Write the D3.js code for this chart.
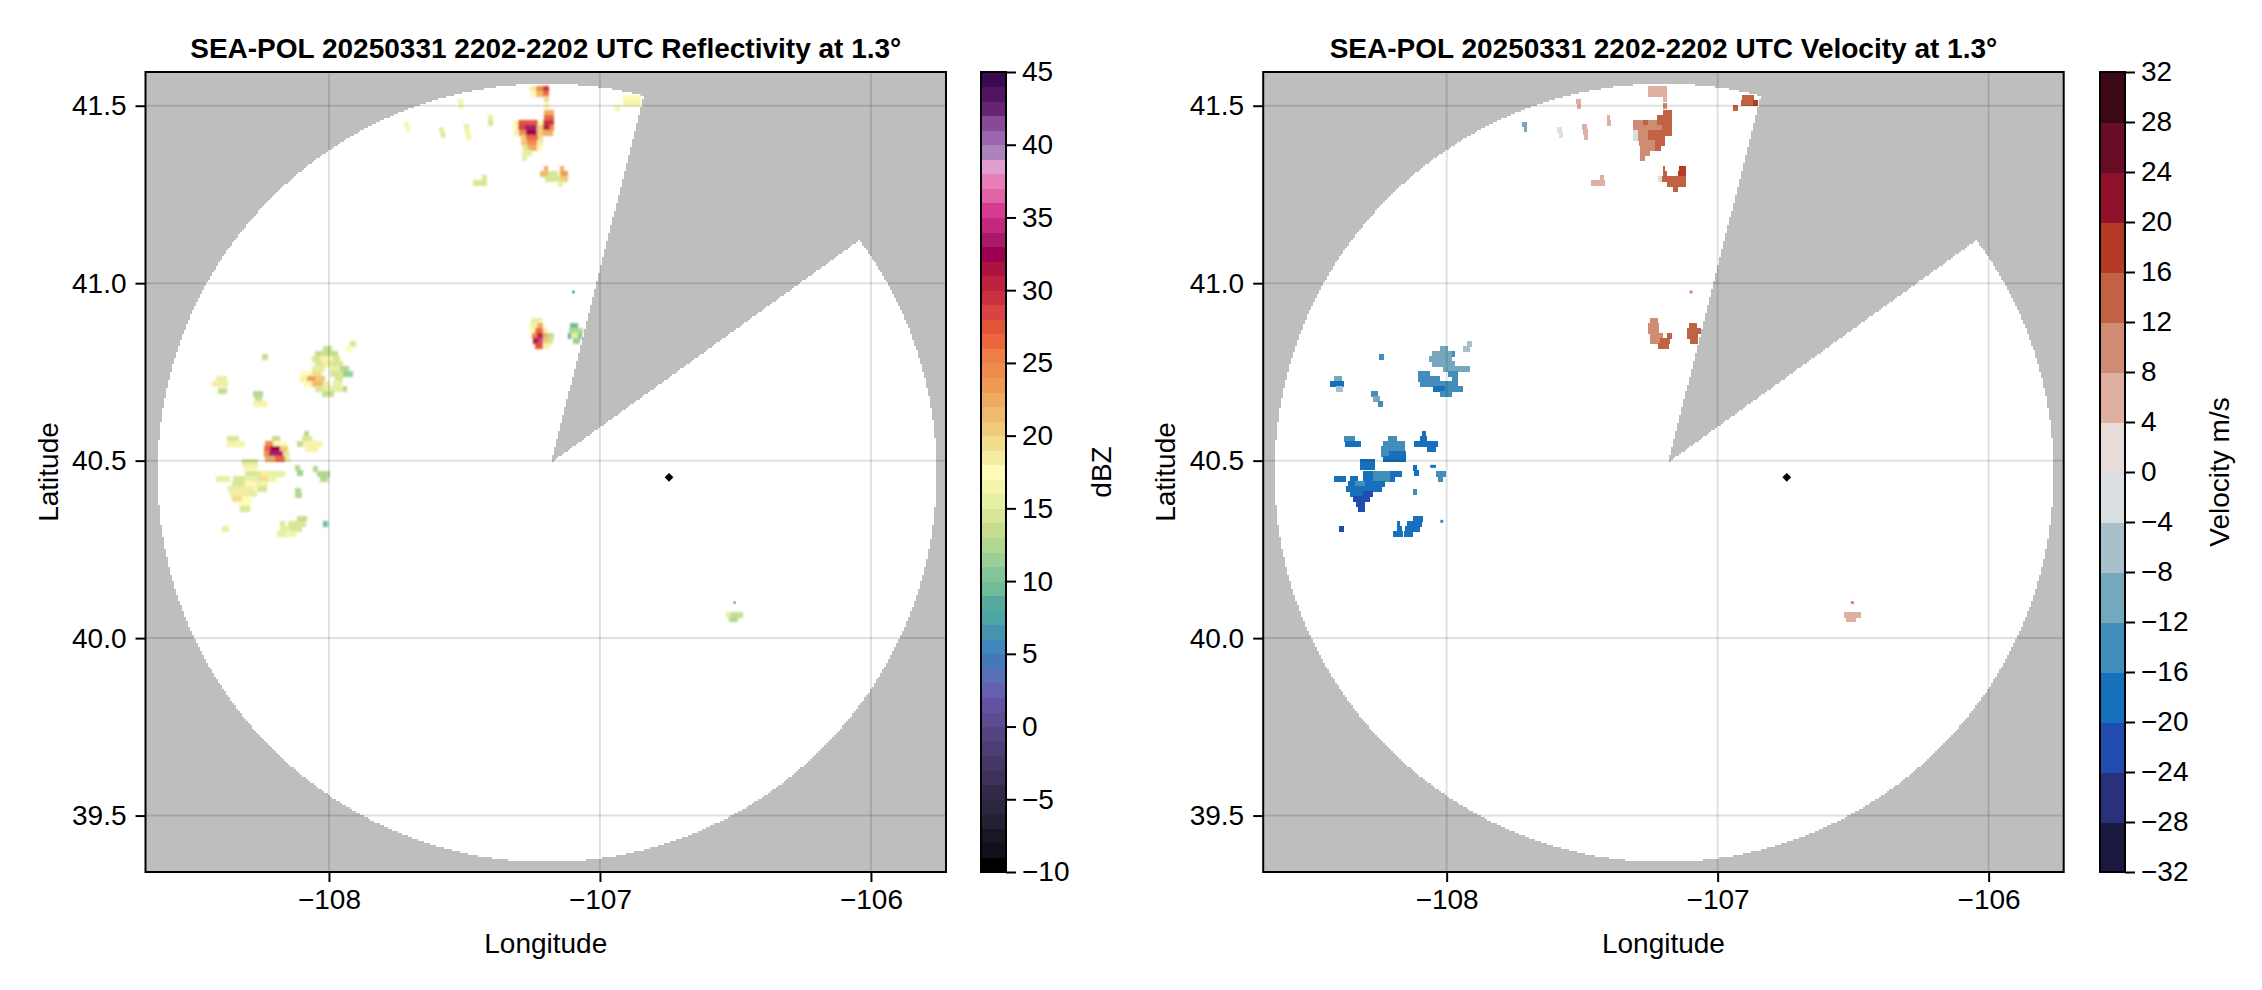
<!DOCTYPE html>
<html>
<head>
<meta charset="utf-8">
<script src="https://cdn.jsdelivr.net/npm/d3@7"></script>
<style>
  html, body { margin: 0; background: #fff; }
  svg { display: block; }
  text { font-family: "Liberation Sans", Arial, sans-serif; fill: #000; }
</style>
</head>
<body>
<svg id="chart" width="2262" height="990"></svg>
<script>
const lonTicks = [-108, -107, -106]
const latTicks = [39.5, 40.0, 40.5, 41.0, 41.5]
const dbzTicks = [-10, -5, 0, 5, 10, 15, 20, 25, 30, 35, 40, 45]
const velTicks = [-32, -28, -24, -20, -16, -12, -8, -4, 0, 4, 8, 12, 16, 20, 24, 28, 32]

// one colour per dBZ, bottom of the bar to the top
const dbzColors = [
  '#000000', '#12101a', '#1a1626', '#251f34', '#2c253e', '#322a48', '#3e315a', '#453668', '#4c3d74', '#544482',
  '#5e4c93', '#6352a0', '#6660b0', '#5a70b5', '#4478b8', '#3f88bc', '#4693b0', '#4da6a6', '#57a99d', '#70bb98',
  '#82c59a', '#9bcf96', '#b1d891', '#c6dd8f', '#d8e696', '#e6f0a2', '#f4f5ab', '#fefbb8', '#f5eca3', '#f2dd8e',
  '#efca78', '#efba6b', '#eeab62', '#ee9a55', '#f08b4e', '#ef7e45', '#eb663f', '#e35538', '#d94344', '#c93040',
  '#bc2140', '#ac1240', '#9c0050', '#a81a69', '#c2287c', '#d83b92', '#e065a7', '#e57fb5', '#e09fd0', '#ab84be',
  '#9a66ad', '#874a98', '#662472', '#4f1462', '#3a0a50',
]
const velColors = [
  '#1a1a40', '#28317a', '#204cb0', '#1670bc', '#428dba', '#74a8bd', '#a8c0c9', '#d9dfe1',
  '#e8dcd8', '#dfb0a2', '#cf8c72', '#c26245', '#b53a25', '#8f1029', '#690c26', '#3d0815',
]

// sweep outline, degrees: disk minus the blocked sector
const sweepLon = -107.197
const sweepLat = 40.467
const sweepLonRadius = 1.437
const sweepLatRadius = 1.095
const wedgeApex = [-107.183, 40.494]
const wedgeNorth = [-106.841, 41.527]
const wedgeEast = [-106.048, 41.119]
const radarSite = [-106.745, 40.453]

// echo rows: [lat of row top, west lon, east lon, value]
const reflectivityRuns = [
  [41.455,-107.723,-107.703,16],[41.441,-107.716,-107.700,16],
  [41.440,-107.593,-107.575,15],[41.426,-107.587,-107.570,14],
  [41.448,-107.500,-107.482,15],[41.434,-107.497,-107.480,16],[41.420,-107.495,-107.477,16],
  [41.474,-107.412,-107.396,15],[41.460,-107.412,-107.394,14],
  [41.520,-107.523,-107.504,16],[41.508,-107.520,-107.506,16],
  [41.555,-107.258,-107.236,18],[41.555,-107.236,-107.209,24],[41.555,-107.209,-107.187,29],
  [41.541,-107.258,-107.236,17],[41.541,-107.236,-107.209,21],[41.541,-107.209,-107.187,26],
  [41.527,-107.205,-107.187,19],[41.507,-107.205,-107.187,16],
  [41.488,-107.205,-107.170,22],[41.474,-107.205,-107.170,26],
  [41.460,-107.320,-107.301,17],[41.460,-107.301,-107.228,27],[41.460,-107.228,-107.209,17],[41.460,-107.209,-107.170,29],
  [41.446,-107.320,-107.301,17],[41.446,-107.301,-107.277,28],[41.446,-107.277,-107.231,33],[41.446,-107.231,-107.209,20],[41.446,-107.209,-107.185,30],[41.446,-107.185,-107.170,24],
  [41.431,-107.318,-107.299,16],[41.431,-107.299,-107.273,24],[41.431,-107.273,-107.231,32],[41.431,-107.231,-107.209,20],[41.431,-107.209,-107.175,22],
  [41.417,-107.293,-107.273,20],[41.417,-107.273,-107.228,26],[41.417,-107.228,-107.209,19],
  [41.403,-107.293,-107.271,20],[41.403,-107.271,-107.231,24],[41.403,-107.231,-107.209,18],
  [41.389,-107.285,-107.264,19],[41.389,-107.264,-107.234,22],[41.389,-107.234,-107.212,17],
  [41.375,-107.288,-107.252,15],[41.361,-107.288,-107.270,15],
  [41.305,-107.434,-107.418,14],[41.291,-107.468,-107.416,14],
  [41.330,-107.205,-107.191,22],[41.330,-107.148,-107.132,22],
  [41.316,-107.221,-107.191,21],[41.316,-107.191,-107.154,14],[41.316,-107.148,-107.117,23],
  [41.302,-107.203,-107.148,14],[41.302,-107.148,-107.117,20],[41.288,-107.154,-107.135,15],
  [41.530,-106.915,-106.850,17],[41.516,-106.915,-106.850,16],[41.502,-106.945,-106.926,16],
  [40.901,-107.255,-107.215,15],
  [40.887,-107.258,-107.234,16],[40.887,-107.234,-107.209,22],
  [40.873,-107.258,-107.240,17],[40.873,-107.240,-107.209,26],[40.873,-107.209,-107.197,18],
  [40.859,-107.252,-107.234,25],[40.859,-107.234,-107.209,30],[40.859,-107.209,-107.191,22],[40.859,-107.191,-107.170,13],
  [40.845,-107.248,-107.228,31],[40.845,-107.228,-107.209,35],[40.845,-107.209,-107.185,20],[40.845,-107.185,-107.172,14],
  [40.831,-107.240,-107.209,27],[40.831,-107.209,-107.185,16],
  [40.887,-107.111,-107.080,9],
  [40.873,-107.113,-107.064,12],
  [40.859,-107.117,-107.108,8],[40.859,-107.108,-107.080,15],[40.859,-107.080,-107.068,10],
  [40.845,-107.101,-107.074,11],
  [40.836,-107.923,-107.900,14],[40.822,-107.941,-107.915,17],
  [40.822,-108.021,-107.990,13],
  [40.808,-108.052,-107.966,13],
  [40.794,-108.064,-108.033,14],[40.794,-108.033,-107.984,16],[40.794,-107.984,-107.959,14],
  [40.780,-108.052,-108.027,14],[40.780,-108.027,-107.996,18],[40.780,-107.996,-107.947,14],
  [40.766,-108.064,-108.015,15],[40.766,-107.996,-107.959,15],[40.766,-107.959,-107.925,12],
  [40.752,-108.107,-108.064,17],[40.752,-108.064,-108.027,19],[40.752,-107.996,-107.947,14],[40.752,-107.947,-107.912,11],
  [40.738,-108.107,-108.082,16],[40.738,-108.082,-108.052,23],[40.738,-108.052,-108.015,20],[40.738,-107.978,-107.947,14],
  [40.723,-108.095,-108.064,17],[40.723,-108.064,-108.021,21],[40.723,-108.021,-107.996,18],[40.723,-107.984,-107.953,15],
  [40.709,-108.052,-108.021,14],[40.709,-108.021,-107.947,15],[40.709,-107.947,-107.932,12],
  [40.695,-108.027,-107.982,13],
  [40.800,-108.248,-108.224,13],
  [40.738,-108.415,-108.378,15],[40.723,-108.433,-108.372,18],[40.704,-108.408,-108.378,13],
  [40.695,-108.279,-108.242,12],[40.681,-108.273,-108.248,13],[40.667,-108.279,-108.230,16],
  [40.569,-108.378,-108.331,14],[40.554,-108.378,-108.310,16],
  [40.569,-108.212,-108.179,13],
  [40.554,-108.236,-108.205,24],[40.554,-108.205,-108.156,17],
  [40.540,-108.239,-108.218,26],[40.540,-108.218,-108.181,32],[40.540,-108.181,-108.150,20],
  [40.526,-108.239,-108.220,24],[40.526,-108.220,-108.168,33],[40.526,-108.168,-108.146,19],
  [40.512,-108.236,-108.199,22],[40.512,-108.199,-108.162,26],[40.512,-108.162,-108.144,15],
  [40.583,-108.092,-108.073,12],[40.569,-108.101,-108.064,14],
  [40.554,-108.119,-108.095,13],[40.554,-108.095,-108.027,16],[40.540,-108.089,-108.040,16],
  [40.456,-108.415,-108.365,15],
  [40.504,-108.322,-108.261,14],[40.490,-108.316,-108.261,16],
  [40.470,-108.310,-108.255,14],[40.470,-108.255,-108.218,18],[40.470,-108.218,-108.162,15],
  [40.456,-108.355,-108.310,14],[40.456,-108.310,-108.261,15],[40.456,-108.261,-108.224,19],[40.456,-108.224,-108.193,16],
  [40.442,-108.359,-108.310,14],[40.442,-108.310,-108.273,17],[40.442,-108.273,-108.224,16],
  [40.428,-108.371,-108.316,15],[40.428,-108.316,-108.273,18],[40.428,-108.267,-108.230,14],
  [40.414,-108.365,-108.304,18],[40.414,-108.304,-108.267,15],
  [40.400,-108.359,-108.322,19],[40.400,-108.322,-108.285,17],
  [40.385,-108.334,-108.293,17],[40.371,-108.328,-108.293,14],
  [40.487,-108.125,-108.107,12],[40.473,-108.119,-108.097,11],
  [40.484,-108.060,-108.039,12],[40.470,-108.043,-107.996,12],[40.456,-108.033,-108.002,12],
  [40.423,-108.125,-108.104,12],[40.410,-108.125,-108.101,12],
  [40.343,-108.119,-108.080,13],
  [40.329,-108.181,-108.162,14],[40.329,-108.150,-108.083,14],
  [40.315,-108.181,-108.144,15],[40.315,-108.144,-108.101,14],
  [40.301,-108.190,-108.156,15],[40.301,-108.150,-108.119,16],
  [40.329,-108.021,-108.003,9],
  [40.315,-108.396,-108.369,15],
  [40.074,-106.535,-106.515,15],[40.074,-106.515,-106.472,13],[40.060,-106.525,-106.490,12],
]

const velocityRuns = [
  [41.455,-107.723,-107.705,-9],[41.441,-107.716,-107.703,-9],
  [41.440,-107.592,-107.575,3],[41.426,-107.587,-107.572,3],
  [41.448,-107.499,-107.482,6],[41.434,-107.497,-107.480,6],[41.420,-107.495,-107.477,6],
  [41.474,-107.410,-107.396,6],[41.460,-107.410,-107.395,6],
  [41.520,-107.523,-107.506,6],[41.508,-107.520,-107.506,6],
  [41.555,-107.256,-107.188,7],[41.541,-107.256,-107.188,7],[41.527,-107.203,-107.188,7],
  [41.507,-107.203,-107.188,8],
  [41.488,-107.203,-107.170,14],[41.474,-107.225,-107.170,14],
  [41.460,-107.314,-107.277,10],[41.460,-107.277,-107.256,14],[41.460,-107.256,-107.225,10],[41.460,-107.225,-107.170,14],
  [41.446,-107.314,-107.293,10],[41.446,-107.293,-107.207,10],[41.446,-107.207,-107.170,14],
  [41.431,-107.314,-107.293,-1],[41.431,-107.293,-107.256,10],[41.431,-107.256,-107.231,14],[41.431,-107.231,-107.170,14],
  [41.417,-107.314,-107.293,-1],[41.417,-107.293,-107.256,10],[41.417,-107.256,-107.231,13],[41.417,-107.231,-107.194,14],
  [41.403,-107.289,-107.231,10],[41.403,-107.231,-107.194,14],
  [41.389,-107.287,-107.231,10],[41.389,-107.231,-107.210,14],
  [41.375,-107.287,-107.250,10],[41.361,-107.287,-107.268,10],
  [41.305,-107.434,-107.419,7],[41.291,-107.469,-107.417,7],
  [41.330,-107.203,-107.194,14],[41.330,-107.141,-107.117,17],
  [41.316,-107.200,-107.188,14],[41.316,-107.145,-107.117,17],
  [41.302,-107.219,-107.207,-1],[41.302,-107.207,-107.117,14],
  [41.288,-107.188,-107.117,14],[41.274,-107.164,-107.145,14],
  [41.530,-106.911,-106.866,14],[41.516,-106.915,-106.868,14],[41.516,-106.868,-106.850,17],[41.502,-106.945,-106.926,15],
  [40.901,-107.250,-107.219,10],[40.887,-107.256,-107.215,10],[40.873,-107.256,-107.215,10],
  [40.859,-107.250,-107.200,10],[40.859,-107.188,-107.170,14],
  [40.845,-107.250,-107.213,10],[40.845,-107.213,-107.176,13],
  [40.831,-107.219,-107.178,14],
  [40.887,-107.105,-107.078,14],[40.873,-107.114,-107.062,14],[40.859,-107.114,-107.071,13],[40.845,-107.102,-107.071,14],
  [40.836,-107.926,-107.908,-5],[40.822,-107.941,-107.914,-5],
  [40.822,-108.025,-107.994,-10],
  [40.808,-108.055,-107.982,-10],[40.808,-107.982,-107.969,-14],
  [40.794,-108.064,-107.982,-10],
  [40.780,-108.055,-107.969,-10],
  [40.766,-108.012,-107.945,-10],[40.766,-107.951,-107.914,-10],
  [40.752,-108.107,-108.062,-14],[40.752,-107.994,-107.957,-14],
  [40.738,-108.107,-108.025,-14],[40.738,-107.982,-107.957,-14],
  [40.723,-108.098,-107.957,-14],
  [40.709,-108.049,-108.006,-18],[40.709,-108.006,-107.939,-14],
  [40.695,-108.025,-107.982,-14],
  [40.800,-108.248,-108.231,-14],
  [40.738,-108.415,-108.387,-12],[40.723,-108.431,-108.379,-18],[40.709,-108.408,-108.384,-7],
  [40.695,-108.279,-108.252,-14],[40.681,-108.271,-108.246,-10],[40.667,-108.252,-108.236,-16],
  [40.569,-108.379,-108.338,-13],[40.554,-108.375,-108.317,-18],
  [40.569,-108.215,-108.185,-15],
  [40.554,-108.234,-108.154,-14],
  [40.540,-108.242,-108.154,-14],
  [40.526,-108.242,-108.212,-14],[40.526,-108.212,-108.150,-18],
  [40.512,-108.234,-108.150,-18],
  [40.583,-108.092,-108.077,-18],[40.569,-108.098,-108.074,-18],[40.554,-108.119,-108.031,-18],[40.540,-108.074,-108.039,-18],
  [40.456,-108.416,-108.371,-18],
  [40.504,-108.320,-108.264,-18],[40.490,-108.320,-108.264,-18],
  [40.470,-108.308,-108.271,-18],[40.470,-108.271,-108.209,-14],[40.470,-108.209,-108.166,-18],
  [40.456,-108.357,-108.326,-18],[40.456,-108.310,-108.271,-18],[40.456,-108.271,-108.209,-14],[40.456,-108.209,-108.191,-18],
  [40.442,-108.363,-108.338,-18],[40.442,-108.338,-108.301,-14],[40.442,-108.301,-108.228,-18],
  [40.428,-108.371,-108.240,-18],
  [40.414,-108.357,-108.308,-18],[40.414,-108.308,-108.273,-22],
  [40.400,-108.347,-108.283,-22],
  [40.385,-108.335,-108.301,-22],[40.371,-108.326,-108.301,-22],
  [40.487,-108.123,-108.108,-18],[40.473,-108.119,-108.102,-18],
  [40.470,-108.041,-108.002,-14],[40.456,-108.031,-108.012,-16],
  [40.420,-108.125,-108.108,-16],
  [40.343,-108.123,-108.086,-18],
  [40.329,-108.148,-108.092,-18],[40.329,-108.185,-108.172,-18],
  [40.315,-108.185,-108.166,-18],[40.315,-108.154,-108.098,-18],
  [40.301,-108.197,-108.160,-18],[40.301,-108.156,-108.123,-20],
  [40.315,-108.396,-108.379,-22],
  [40.074,-106.534,-106.470,6],[40.060,-106.525,-106.490,7],
]

// single gates: [lat, lon, value]
const reflectivitySpecks = [[40.975,-107.098,9],[40.100,-106.503,11]]
const velocitySpecks = [[40.975,-107.098,10],[40.484,-108.055,-18],[40.484,-108.045,-18],[40.329,-108.018,-16],[40.100,-106.503,9]]

const lonDomain = [-108.677, -105.723]
const latDomain = [39.341, 41.595]
const plotTop = 72
const plotBottom = 872
const plotWidth = 800.5
const rowHeight = 0.016
const gridCell = 2

const svg = d3.select('#chart')
const wholeMinus = (v) => String(v).replace('-', '\u2212')

const cross = (a, b, p) => (b[0] - a[0]) * (p[1] - a[1]) - (b[1] - a[1]) * (p[0] - a[0])

const insideSweep = (lon, lat) => {
  const du = (lon - sweepLon) / sweepLonRadius
  const dv = (lat - sweepLat) / sweepLatRadius
  if (du * du + dv * dv > 1) return false
  const p = [lon, lat]
  return !(cross(wedgeApex, wedgeNorth, p) < 0 && cross(wedgeApex, wedgeEast, p) > 0)
}

const drawSweep = (g, x, y) => {
  // runs of a coarse raster, so the outline has the same stepped edge as the gates
  const [px0, px1] = x.range()
  const [py1, py0] = y.range()
  const runs = []
  for (let py = py0; py < py1; py += gridCell) {
    let start = null
    for (let px = px0; px <= px1; px += gridCell) {
      const inside = insideSweep(x.invert(px + gridCell / 2), y.invert(py + gridCell / 2))
      if (inside && start === null) start = px
      if (!inside && start !== null) {
        runs.push({ lon0: x.invert(start), lon1: x.invert(px), lat: y.invert(py) })
        start = null
      }
    }
  }
  g.append('g')
    .attr('shape-rendering', 'crispEdges')
    .selectAll('rect')
    .data(runs)
    .join('rect')
    .attr('x', (d) => x(d.lon0))
    .attr('y', (d) => y(d.lat))
    .attr('width', (d) => x(d.lon1) - x(d.lon0))
    .attr('height', gridCell + 0.5)
    .attr('fill', '#fff')
}

const drawPanel = ({ left, title, runs, specks, color, ticks, barLeft, barLabel, barLabelX, id, blur }) => {
  const x = d3.scaleLinear().domain(lonDomain).range([left, left + plotWidth])
  const y = d3.scaleLinear().domain(latDomain).range([plotBottom, plotTop])

  svg.append('clipPath').attr('id', id)
    .append('rect')
    .attr('x', left).attr('y', plotTop)
    .attr('width', plotWidth).attr('height', plotBottom - plotTop)

  svg.append('filter').attr('id', `${id}-soft`)
    .append('feGaussianBlur').attr('stdDeviation', blur)

  const plot = svg.append('g').attr('clip-path', `url(#${id})`)
  plot.append('rect')
    .attr('x', left).attr('y', plotTop)
    .attr('width', plotWidth).attr('height', plotBottom - plotTop)
    .attr('fill', '#bebebe')

  drawSweep(plot, x, y)

  plot.append('g')
    .attr('filter', `url(#${id}-soft)`)
    .selectAll('rect')
    .data(runs)
    .join('rect')
    .attr('x', (d) => x(d[1]))
    .attr('y', (d) => y(d[0]))
    .attr('width', (d) => x(d[2]) - x(d[1]))
    .attr('height', y(0) - y(rowHeight))
    .attr('fill', (d) => color(d[3]))
    .attr('shape-rendering', 'crispEdges')

  plot.append('g')
    .selectAll('rect')
    .data(specks)
    .join('rect')
    .attr('x', (d) => x(d[1]) - 1.5)
    .attr('y', (d) => y(d[0]) - 1.5)
    .attr('width', 3)
    .attr('height', 3)
    .attr('fill', (d) => color(d[2]))

  plot.append('path')
    .attr('d', d3.symbol(d3.symbolSquare, 38))
    .attr('transform', `translate(${x(radarSite[0])},${y(radarSite[1])}) rotate(45)`)
    .attr('fill', '#000')

  const grid = plot.append('g').attr('stroke', 'rgba(0,0,0,0.12)').attr('stroke-width', 2)
  grid.selectAll('.v').data(lonTicks).join('line').attr('class', 'v')
    .attr('x1', (d) => x(d)).attr('x2', (d) => x(d))
    .attr('y1', plotTop).attr('y2', plotBottom)
  grid.selectAll('.h').data(latTicks).join('line').attr('class', 'h')
    .attr('x1', left).attr('x2', left + plotWidth)
    .attr('y1', (d) => y(d)).attr('y2', (d) => y(d))

  svg.append('rect')
    .attr('x', left).attr('y', plotTop)
    .attr('width', plotWidth).attr('height', plotBottom - plotTop)
    .attr('fill', 'none').attr('stroke', '#000').attr('stroke-width', 2)

  const styleAxis = (axis) => {
    axis.select('.domain').remove()
    axis.selectAll('line').attr('stroke', '#000').attr('stroke-width', 2)
    axis.selectAll('text').attr('font-size', 28).attr('font-family', '"Liberation Sans", Arial, sans-serif').attr('fill', '#000')
  }

  svg.append('g')
    .attr('transform', `translate(0,${plotBottom})`)
    .call(d3.axisBottom(x).tickValues(lonTicks).tickSize(10).tickPadding(7).tickFormat(wholeMinus))
    .call(styleAxis)

  svg.append('g')
    .attr('transform', `translate(${left},0)`)
    .call(d3.axisLeft(y).tickValues(latTicks).tickSize(10).tickPadding(9).tickFormat(d3.format('.1f')))
    .call(styleAxis)

  svg.append('text')
    .attr('x', left + plotWidth / 2).attr('y', 58)
    .attr('text-anchor', 'middle')
    .attr('font-size', 28).attr('font-weight', 'bold')
    .text(title)

  svg.append('text')
    .attr('x', left + plotWidth / 2).attr('y', 953)
    .attr('text-anchor', 'middle')
    .attr('font-size', 28)
    .text('Longitude')

  svg.append('text')
    .attr('transform', `translate(${left - 88},${(plotTop + plotBottom) / 2}) rotate(-90)`)
    .attr('text-anchor', 'middle')
    .attr('font-size', 28)
    .text('Latitude')

  // colorbar
  const barWidth = 25
  const barScale = d3.scaleLinear().domain(color.domain()).range([plotBottom, plotTop])
  svg.append('g')
    .attr('shape-rendering', 'crispEdges')
    .selectAll('rect')
    .data(color.range())
    .join('rect')
    .attr('x', barLeft)
    .attr('y', (c) => barScale(color.invertExtent(c)[1]))
    .attr('width', barWidth)
    .attr('height', (c) => barScale(color.invertExtent(c)[0]) - barScale(color.invertExtent(c)[1]) + 0.5)
    .attr('fill', (c) => c)

  svg.append('rect')
    .attr('x', barLeft).attr('y', plotTop)
    .attr('width', barWidth).attr('height', plotBottom - plotTop)
    .attr('fill', 'none').attr('stroke', '#000').attr('stroke-width', 2)

  svg.append('g')
    .attr('transform', `translate(${barLeft + barWidth},0)`)
    .call(d3.axisRight(barScale).tickValues(ticks).tickSize(10).tickPadding(6).tickFormat(wholeMinus))
    .call(styleAxis)

  svg.append('text')
    .attr('transform', `translate(${barLabelX},${(plotTop + plotBottom) / 2}) rotate(-90)`)
    .attr('text-anchor', 'middle')
    .attr('font-size', 28)
    .text(barLabel)
}

drawPanel({
  id: 'clip-dbz',
  left: 145.5,
  title: 'SEA-POL 20250331 2202-2202 UTC Reflectivity at 1.3°',
  runs: reflectivityRuns,
  specks: reflectivitySpecks,
  color: d3.scaleQuantize().domain([-10, 45]).range(dbzColors),
  ticks: dbzTicks,
  barLeft: 981,
  barLabel: 'dBZ',
  barLabelX: 1111,
  blur: 1,
})

drawPanel({
  id: 'clip-vel',
  left: 1263.2,
  title: 'SEA-POL 20250331 2202-2202 UTC Velocity at 1.3°',
  runs: velocityRuns,
  specks: velocitySpecks,
  color: d3.scaleQuantize().domain([-32, 32]).range(velColors),
  ticks: velTicks,
  barLeft: 2100,
  barLabel: 'Velocity m/s',
  barLabelX: 2229,
  blur: 0.4,
})
</script>
</body>
</html>
